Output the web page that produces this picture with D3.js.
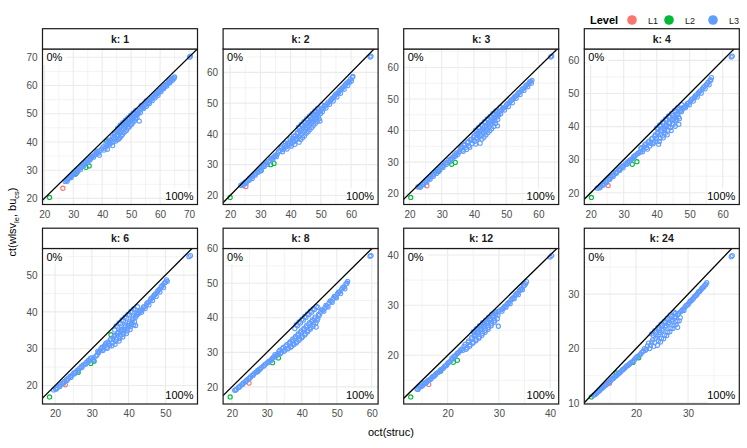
<!DOCTYPE html>
<html>
<head>
<meta charset="utf-8">
<script src="https://cdn.jsdelivr.net/npm/d3@7"></script>
<style>
  body { margin: 0; background: #fff; }
  svg { font-family: "Liberation Sans", Arial, Helvetica, sans-serif; }
</style>
</head>
<body>
<div id="chart"></div>
<script>
// facet labels
var kLabels = ["1", "2", "3", "4", "6", "8", "12", "24"];
var levels = ["L1", "L2", "L3"];
var levelColors = ["#F8766D", "#00BA38", "#619CFF"];

// L1 (one point per panel)
var l1 = [[26.4, 23.6], [25.2, 22.9], [25.4, 22.5], [25.3, 22.2], [22.8, 20.2], [24.9, 21.1], [16.3, 14.2], [14.9, 13.6]];

// L2 points per panel
var l2 = [
  [[21.8, 20.35], [31.0, 28.8], [34.4, 31.0], [35.5, 31.5], [41.5, 40.2]],
  [[20.0, 19.35], [30.2, 28.0], [33.4, 30.0], [34.5, 30.4]],
  [[20.4, 18.8], [29.0, 27.0], [33.1, 29.3], [34.2, 29.9]],
  [[20.2, 18.6], [28.8, 26.9], [32.6, 28.6], [34.0, 29.4]],
  [[18.5, 16.9], [26.3, 23.6], [29.7, 26.0], [30.6, 26.6], [35.2, 33.8]],
  [[19.5, 17.1], [27.5, 24.6], [31.6, 27.0], [33.3, 28.4]],
  [[12.8, 11.7], [18.6, 16.8], [21.1, 18.6], [21.9, 19.0]],
  [[11.4, 11.1], [16.2, 15.5], [19.4, 17.45], [20.5, 18.3]]
];

// L3 points, one array per panel
var l3_k1 = [[27.2,26.0],[27.6,26.4],[28.0,26.8],[28.3,27.0],[28.7,27.5],[29.1,27.8],[29.5,28.1],[30.0,28.7],[30.4,29.0],[30.9,29.5],[31.3,29.9],[31.8,30.4],[32.3,30.9],[32.8,31.2],[33.2,31.9],[33.7,32.1],[34.3,32.8],[34.8,33.2],[35.4,33.9],[36.0,34.2],[36.6,34.9],[37.3,35.4],[38.0,36.2],[38.6,36.0],[39.2,36.9],[39.0,35.3],[39.8,37.5],[40.3,38.2],
  [27.9,26.1],[29.3,27.4],[30.6,28.5],[31.5,29.4],[32.5,30.2],[33.5,31.4],[34.0,32.5],[35.0,32.8],[35.8,33.6],[36.3,34.6],[37.0,34.6],[37.8,35.7],[38.3,36.7],
  [41.0,37.8],[41.6,38.6],[42.0,39.9],[42.4,38.9],[42.8,40.5],[43.1,39.6],[43.5,41.8],[43.8,40.1],[44.2,42.7],[44.5,41.2],[44.9,43.6],[45.2,40.8],[45.5,42.4],[45.8,44.6],[46.1,41.5],[46.4,43.5],[46.7,45.4],[47.0,42.6],[47.3,44.7],[47.6,46.4],[47.9,43.8],[48.2,45.8],[48.5,47.3],[48.8,44.9],[49.1,46.8],[49.4,48.3],[49.7,45.9],[50.0,47.8],[50.3,49.2],[50.6,47.0],[50.9,48.7],[51.2,50.1],[51.5,48.2],[51.8,49.6],[52.1,51.0],[52.8,47.4],[52.5,50.3],
  [40.6,37.1],[41.3,39.4],[41.8,37.4],[42.2,40.6],[42.6,39.4],[43.3,40.8],[43.6,38.7],[44.0,41.5],[44.3,43.3],[44.7,40.3],[45.0,42.1],[45.4,43.9],[45.7,41.0],[46.0,43.0],[46.3,45.2],[46.6,42.1],[46.9,44.1],[47.2,46.2],[47.5,43.3],[47.8,45.2],[48.1,46.8],[48.4,44.1],[48.7,46.2],[49.0,47.9],[49.3,45.3],[49.6,47.4],[49.9,48.8],[50.2,46.3],[50.5,48.1],[50.8,49.8],[51.1,47.4],[51.4,49.2],[51.7,50.6],[52.0,48.6],[52.3,49.9],
  [53.0,51.2],[53.5,51.9],[54.0,52.1],[54.5,52.9],[55.0,53.1],[55.5,53.9],[56.0,54.0],[56.5,54.8],[57.0,55.1],[57.5,55.8],[58.0,56.0],[58.5,56.8],[59.0,57.1],[59.5,57.6],[60.0,58.3],[60.5,58.6],[61.0,59.4],[61.5,59.5],[62.0,60.3],[62.5,60.5],[63.0,61.6],[63.5,61.4],[64.0,62.3],[64.5,62.6],[65.0,63.0],
  [53.2,50.4],[53.8,52.6],[54.3,51.8],[54.8,53.6],[55.3,52.6],[55.8,54.6],[56.3,53.6],[56.8,55.5],[57.3,54.6],[57.8,56.6],[58.3,55.6],[58.8,57.4],[59.3,56.5],[59.8,58.2],[60.3,57.8],[60.8,59.0],[61.3,58.9],[61.8,60.0],[62.3,59.8],[62.8,61.0],[63.3,60.9],[63.8,62.0],[64.3,61.8],[64.8,62.5],
  [45.3,44.9],[46.2,45.9],[47.1,46.8],[48.0,47.7],[48.9,48.6],[49.8,49.5],[50.7,50.3],[51.6,51.2],[53.5,52.9],[55.2,54.5],
  [45.7,44.6],[46.6,45.5],[47.5,46.4],[48.4,47.4],[49.3,48.1],[50.2,49.1],[51.1,49.8],
  [70.2,70.0],[70.5,70.4]];
var l3_k2 = [[23.5,23.3],[24.0,23.6],[24.5,23.9],[25.0,24.3],[25.5,24.6],[26.0,25.0],[26.5,25.6],[27.0,26.0],[27.5,26.4],[28.0,26.9],[28.5,27.2],[29.0,27.8],[29.5,28.3],[30.0,28.6],[30.5,29.2],[31.0,29.6],[31.5,30.1],[32.0,30.6],[32.6,31.0],[33.2,31.3],[33.8,32.0],[34.4,32.5],[35.0,33.0],[35.6,33.5],
  [24.3,23.2],[25.3,24.0],[26.3,24.9],[27.3,25.5],[28.3,26.6],[29.3,27.5],[30.3,28.2],[31.3,29.4],[32.3,30.1],[33.5,31.9],[34.1,31.7],[34.8,32.8],[35.3,32.6],[36.0,34.2],
  [36.5,34.6],[37.0,35.4],[37.5,34.9],[38.0,36.2],[38.5,35.8],[39.0,37.0],[39.5,36.2],[40.0,37.8],[40.4,36.8],[40.8,38.6],[41.2,37.5],[41.6,39.4],[42.0,38.2],[42.4,40.2],[42.8,37.3],[43.2,39.6],[43.6,41.4],[44.0,38.8],[44.4,40.9],[44.8,42.6],[45.2,40.2],[45.6,42.1],[46.0,43.8],[46.4,41.4],[46.8,43.4],[47.2,45.0],[47.6,42.8],[48.0,44.6],[48.4,46.2],[48.8,44.1],[49.2,45.8],[49.7,44.2],[49.6,47.3],
  [36.8,35.7],[37.3,34.2],[37.8,35.3],[38.3,37.0],[38.8,35.1],[39.3,36.8],[39.8,38.4],[40.2,36.0],[40.6,37.7],[41.0,39.3],[41.4,36.6],[41.8,38.6],[42.2,40.4],[42.6,38.9],[43.0,41.0],[43.4,38.2],[43.8,40.1],[44.2,42.0],[44.6,39.4],[45.0,41.5],[45.4,43.3],[45.8,40.8],[46.2,42.7],[46.6,44.6],[47.0,42.1],[47.4,44.0],[47.8,46.0],[48.2,43.5],[48.6,45.4],[49.0,47.1],[49.4,44.9],[49.9,46.6],
  [50.2,47.9],[50.8,48.3],[51.4,49.1],[52.0,49.6],[52.6,50.4],[53.2,50.9],[53.8,51.6],[54.4,52.1],[55.0,52.9],[55.6,53.3],[56.2,54.1],[56.8,54.6],[57.4,55.3],[58.0,55.9],[58.6,56.6],[59.2,57.1],[59.8,57.8],[60.4,58.4],
  [50.5,47.2],[51.1,49.0],[51.7,48.4],[52.3,50.1],[52.9,49.6],[53.5,51.2],[54.1,50.7],[54.7,52.5],[55.3,52.0],[55.9,53.6],[56.5,53.2],[57.1,54.9],[57.7,54.5],[58.3,56.1],[58.9,55.7],[59.5,56.8],[60.1,57.2],[60.6,58.7],
  [42.6,42.2],[43.5,43.1],[44.4,44.0],[45.3,44.9],[46.2,45.8],[47.1,46.6],[48.0,47.5],[48.9,48.3],[50.3,49.4],
  [43.0,41.8],[43.9,42.7],[44.8,43.6],[45.7,44.5],[46.6,45.3],[47.5,46.2],[48.4,47.1],[49.3,47.8],
  [66.3,65.0],[66.6,65.3]];
var l3_k3 = [[22.6,22.1],[23.1,22.2],[23.6,22.7],[24.1,23.0],[24.6,23.5],[25.1,24.0],[25.6,24.5],[26.1,24.9],[26.6,25.4],[27.1,25.9],[27.6,26.2],[28.1,26.8],[28.6,27.1],[29.1,27.7],[29.6,28.1],[30.1,28.6],[30.6,29.0],[31.1,29.6],[31.6,29.9],[32.2,30.6],[32.8,31.0],[33.4,31.6],[34.0,32.3],[34.6,32.9],
  [23.4,22.0],[24.4,22.8],[25.4,23.7],[26.4,24.6],[27.4,25.5],[28.4,26.4],[29.4,27.4],[30.4,28.3],[31.4,29.2],[32.5,30.1],[33.1,30.9],[33.8,31.6],[34.3,31.9],[35.0,32.4],
  [35.4,33.2],[35.9,34.4],[36.4,33.8],[36.9,35.3],[37.4,34.6],[37.9,36.2],[38.4,35.2],[38.9,37.1],[39.4,35.9],[39.9,37.9],[40.3,36.6],[40.7,38.8],[41.1,37.4],[41.5,39.6],[41.9,36.0],[42.3,38.6],[42.7,40.4],[43.1,37.9],[43.5,39.9],[43.9,41.6],[44.3,39.3],[44.7,41.2],[45.1,42.9],[45.5,40.6],[45.9,42.6],[46.3,44.0],[46.7,42.2],[47.1,44.3],[47.3,41.5],[47.5,45.6],
  [35.7,33.9],[36.2,34.8],[36.7,33.4],[37.2,35.6],[37.7,34.0],[38.2,36.5],[38.7,34.7],[39.2,37.3],[39.7,36.8],[40.1,38.4],[40.5,35.7],[40.9,37.8],[41.3,39.2],[41.7,38.0],[42.1,40.0],[42.5,37.3],[42.9,39.3],[43.3,41.2],[43.7,38.6],[44.1,40.6],[44.5,42.4],[44.9,39.9],[45.3,41.9],[45.7,43.6],[46.1,41.3],[46.5,43.2],[46.9,45.0],[47.4,43.5],[47.7,44.9],
  [48.0,46.0],[48.6,46.5],[49.2,47.2],[49.8,47.6],[50.4,48.5],[51.0,48.9],[51.6,49.7],[52.2,50.1],[52.8,50.9],[53.4,51.3],[54.0,52.1],[54.6,52.5],[55.2,53.3],[55.8,53.7],[56.4,54.5],[57.0,54.9],[57.6,55.6],[58.0,55.9],
  [48.3,45.3],[48.9,47.0],[49.5,46.5],[50.1,48.1],[50.7,47.6],[51.3,49.3],[51.9,48.8],[52.5,50.5],[53.1,50.2],[53.7,51.8],[54.3,51.4],[54.9,53.0],[55.5,52.7],[56.1,54.2],[56.7,53.9],[57.3,55.4],[57.8,55.0],
  [40.5,40.1],[41.4,41.0],[42.3,41.9],[43.2,42.8],[44.1,43.7],[45.0,44.5],[45.9,45.4],[46.8,46.2],[48.2,47.3],
  [40.9,39.8],[41.8,40.7],[42.7,41.6],[43.6,42.5],[44.5,43.3],[45.4,44.1],[46.3,45.0],[47.2,45.9],
  [63.8,63.3],[64.1,63.6]];
var l3_k4 = [[22.0,21.4],[22.5,21.6],[23.0,22.0],[23.5,22.4],[24.0,22.9],[24.5,23.3],[25.0,23.8],[25.5,24.1],[26.0,24.7],[26.5,25.1],[27.0,25.5],[27.5,26.1],[28.0,26.4],[28.5,27.0],[29.0,27.4],[29.5,27.9],[30.0,28.3],[30.6,28.8],[31.2,29.3],[31.8,29.8],[32.4,30.2],[33.0,30.9],[33.6,31.4],[34.2,31.8],
  [22.8,21.5],[23.8,22.3],[24.8,23.1],[25.8,24.1],[26.8,24.9],[27.8,25.9],[28.8,26.8],[29.8,27.6],[30.9,28.6],[31.5,29.1],[32.1,29.9],[32.7,30.3],[33.3,31.0],[34.6,32.1],
  [35.0,32.3],[35.4,33.6],[35.9,33.0],[36.4,34.5],[36.9,33.7],[37.4,35.3],[37.9,34.1],[38.4,36.2],[38.9,34.8],[39.4,37.1],[39.8,35.6],[40.2,37.9],[40.6,34.7],[41.0,36.5],[41.4,38.7],[41.8,37.2],[42.2,39.5],[42.6,38.0],[43.0,40.3],[43.4,38.8],[43.8,41.1],[44.2,39.7],[44.6,41.9],[45.0,40.6],[45.4,42.7],[45.8,41.8],[46.2,43.6],[46.7,40.7],[46.6,42.9],
  [35.2,33.3],[35.7,32.4],[36.2,33.9],[36.7,34.8],[37.2,33.2],[37.7,35.6],[38.2,34.9],[38.7,36.5],[39.1,35.3],[39.6,37.6],[40.0,36.4],[40.4,38.3],[40.8,35.5],[41.2,37.6],[41.6,39.3],[42.0,36.6],[42.4,38.8],[42.8,40.0],[43.2,37.5],[43.6,39.9],[44.0,41.3],[44.4,38.8],[44.8,40.9],[45.2,42.3],[45.6,40.1],[46.0,42.2],[46.4,43.8],[46.9,42.4],
  [47.2,44.8],[47.8,45.2],[48.4,45.9],[49.0,46.4],[49.6,47.1],[50.2,47.6],[50.8,48.4],[51.4,48.8],[52.0,49.6],[52.6,50.1],[53.2,50.8],[53.8,51.3],[54.4,52.1],[55.0,52.6],[55.6,53.4],[56.2,54.1],[56.6,54.8],
  [47.5,44.5],[48.1,45.8],[48.7,45.7],[49.3,47.0],[49.9,46.6],[50.5,48.1],[51.1,47.7],[51.7,49.2],[52.3,48.9],[52.9,50.5],[53.5,50.1],[54.1,51.7],[54.7,51.4],[55.3,52.9],[55.9,52.6],[56.4,54.0],
  [40.0,39.6],[40.9,40.5],[41.8,41.4],[42.7,42.3],[43.6,43.2],[44.5,44.0],[45.4,44.9],[46.3,45.7],[47.6,46.6],
  [40.4,39.2],[41.3,40.1],[42.2,41.0],[43.1,41.9],[44.0,42.8],[44.9,43.4],[45.8,44.4],[46.8,45.2],
  [62.6,61.0],[62.9,61.3]];
var l3_k6 = [[19.6,18.8],[20.1,19.1],[20.6,19.4],[21.1,19.8],[21.6,20.3],[22.1,20.7],[22.6,21.1],[23.1,21.6],[23.6,22.0],[24.1,22.5],[24.6,22.8],[25.1,23.4],[25.6,23.7],[26.1,24.2],[26.6,24.6],[27.1,25.1],[27.6,25.5],[28.1,25.9],[28.6,26.4],[29.1,26.9],[29.6,27.4],[30.1,27.0],[30.6,27.6],[31.1,28.0],
  [20.3,19.0],[21.3,19.7],[22.3,20.6],[23.3,21.4],[24.3,22.2],[25.3,23.2],[26.3,24.0],[27.3,24.9],[28.3,25.8],[29.3,26.6],[29.9,27.5],[30.4,26.8],[31.4,28.3],[31.6,29.3],
  [31.8,28.9],[32.3,29.6],[32.8,30.4],[33.2,29.9],[33.6,31.0],[34.0,30.4],[34.4,31.8],[34.8,30.9],[35.2,32.6],[35.6,31.5],[36.0,33.3],[36.3,31.2],[36.7,32.5],[37.0,34.1],[37.4,32.1],[37.7,33.4],[38.0,35.0],[38.4,33.2],[38.7,34.5],[39.0,35.9],[39.4,34.1],[39.7,35.6],[40.0,36.8],[40.4,35.2],[40.7,36.6],[41.0,37.8],[41.4,36.5],[41.9,36.3],[41.8,38.5],
  [32.0,29.3],[32.5,30.1],[33.0,29.5],[33.4,30.7],[33.8,31.5],[34.2,30.1],[34.6,31.3],[35.0,32.4],[35.4,30.8],[35.8,32.7],[36.2,33.6],[36.5,32.0],[36.9,33.6],[37.2,34.4],[37.6,32.8],[37.9,34.6],[38.2,35.3],[38.6,33.9],[38.9,35.2],[39.2,36.3],[39.6,34.8],[39.9,36.2],[40.2,37.3],[40.6,36.0],[40.9,37.2],[41.2,38.3],[41.6,37.3],[42.0,38.9],
  [42.3,39.2],[42.8,39.6],[43.3,40.3],[43.8,40.7],[44.3,41.4],[44.8,41.9],[45.3,42.6],[45.8,43.0],[46.3,43.8],[46.8,44.3],[47.3,44.9],[47.8,45.5],[48.3,46.1],[48.8,46.8],[49.3,47.3],[49.8,47.9],[50.3,48.7],
  [42.5,39.8],[43.0,40.3],[43.5,39.9],[44.0,41.3],[44.5,40.9],[45.0,42.4],[45.5,41.9],[46.0,43.5],[46.5,43.1],[47.0,44.6],[47.5,44.2],[48.0,45.8],[48.5,45.4],[49.0,46.9],[49.5,46.6],[50.0,48.1],[50.5,48.3],
  [36.6,36.2],[37.4,37.0],[38.2,37.8],[39.0,38.6],[39.8,39.3],[40.6,40.1],[41.4,40.8],[42.4,41.4],
  [36.2,35.1],[37.0,35.9],[37.8,36.8],[38.6,37.6],[39.4,38.3],[40.2,39.1],[41.0,39.9],[41.8,40.6],
  [56.4,55.0],[56.8,55.3]];
var l3_k8 = [[20.8,19.0],[21.3,19.3],[21.8,19.8],[22.3,20.2],[22.8,20.6],[23.3,21.1],[23.8,21.5],[24.3,22.0],[24.8,22.4],[25.3,22.9],[25.8,23.3],[26.3,23.8],[26.8,24.2],[27.3,24.7],[27.8,25.1],[28.4,25.6],[29.0,26.0],[29.6,26.6],[30.2,27.0],[30.8,27.5],[31.4,28.0],[32.0,28.6],[32.6,28.9],
  [21.1,19.1],[22.1,19.9],[23.1,20.8],[24.1,21.7],[25.1,22.5],[26.1,23.4],[27.1,24.3],[28.1,25.2],[29.3,26.3],[30.5,27.3],[31.1,27.6],[31.7,28.4],[32.3,29.3],[32.9,29.2],
  [33.2,29.6],[33.7,30.6],[34.2,30.0],[34.7,31.4],[35.2,30.7],[35.7,32.2],[36.2,31.2],[36.6,33.0],[37.0,31.7],[37.4,33.8],[37.8,32.4],[38.2,34.6],[38.6,33.1],[39.0,35.4],[39.4,33.9],[39.8,36.2],[40.2,34.6],[40.6,36.9],[41.0,35.4],[41.4,37.8],[41.8,36.3],[42.2,38.6],[42.6,37.2],[43.0,39.4],[43.4,38.1],[43.8,40.2],[44.1,37.3],[44.4,39.3],[44.8,41.0],
  [33.4,30.2],[33.9,29.7],[34.4,31.0],[34.9,30.3],[35.4,31.8],[35.9,31.0],[36.4,32.6],[36.8,31.5],[37.2,33.3],[37.6,32.2],[38.0,34.1],[38.4,32.7],[38.8,34.9],[39.2,33.5],[39.6,35.8],[40.0,34.2],[40.4,36.5],[40.8,35.0],[41.2,37.3],[41.6,35.9],[42.0,38.1],[42.4,36.7],[42.8,38.9],[43.2,37.5],[43.6,39.7],[44.0,38.5],[44.6,39.9],[45.0,40.7],
  [45.4,41.6],[46.0,42.2],[46.6,42.9],[47.2,43.4],[47.8,44.3],[48.4,44.8],[49.0,45.6],[49.6,46.1],[50.2,47.0],[50.8,47.5],[51.4,48.3],[52.0,48.9],[52.6,49.8],[53.1,50.5],
  [45.7,42.3],[46.3,41.9],[46.9,43.6],[47.5,43.1],[48.1,44.9],[48.7,44.5],[49.3,46.2],[49.9,45.8],[50.5,47.4],[51.1,47.0],[51.7,48.7],[52.3,48.4],[52.9,50.0],
  [38.4,38.0],[39.2,38.8],[40.0,39.6],[40.8,40.4],[41.6,41.1],[42.4,41.9],[43.2,42.6],[44.2,43.3],
  [38.0,36.9],[38.8,37.7],[39.6,38.5],[40.4,39.3],[41.2,40.1],[42.0,40.9],[42.8,41.6],[43.6,42.4],[44.6,43.0],
  [59.5,57.8],[59.8,58.0]];
var l3_k12 = [[14.0,13.3],[14.4,13.5],[14.8,13.8],[15.2,14.1],[15.6,14.5],[16.0,14.8],[16.4,15.1],[16.8,15.4],[17.2,15.8],[17.6,16.1],[18.0,16.5],[18.4,16.8],[18.8,17.2],[19.2,17.5],[19.6,17.9],[20.0,18.4],[20.4,18.7],[20.8,19.4],[21.2,19.8],[21.6,20.0],[22.0,20.5],[22.4,20.9],[22.8,21.3],
  [14.2,13.2],[14.6,13.8],[15.0,13.9],[15.4,14.4],[15.8,14.5],[16.2,15.0],[16.6,15.2],[17.0,15.7],[17.4,15.9],[17.8,16.4],[18.2,16.6],[18.6,17.1],[19.0,17.3],[19.4,17.8],[19.8,18.0],[20.2,18.6],[20.6,18.9],[21.0,19.3],[21.4,19.7],[21.8,20.3],[22.2,20.6],[22.6,21.1],[23.0,21.0],
  [23.2,21.8],[23.6,21.2],[24.0,22.6],[24.3,21.8],[24.6,23.3],[24.9,22.4],[25.2,23.9],[25.5,22.9],[25.8,24.5],[26.1,23.4],[26.4,25.1],[26.7,24.0],[27.0,25.8],[27.3,24.6],[27.6,26.4],[27.9,25.2],[28.2,27.0],[28.5,25.9],[28.8,27.6],[29.1,26.6],[29.4,28.2],[29.9,25.8],[29.7,27.3],[30.0,28.8],
  [23.4,22.2],[23.8,21.5],[24.1,22.9],[24.4,22.1],[24.7,23.6],[25.0,22.6],[25.3,24.2],[25.6,23.2],[25.9,24.8],[26.2,23.7],[26.5,25.4],[26.8,24.4],[27.1,26.1],[27.4,25.0],[27.7,26.7],[28.0,25.6],[28.3,27.3],[28.6,26.3],[28.9,27.9],[29.2,27.0],[29.5,28.5],[29.8,28.0],
  [30.4,29.1],[30.8,29.3],[31.2,29.8],[31.6,30.2],[32.0,30.6],[32.4,31.1],[32.8,31.5],[33.2,32.0],[33.6,32.4],[34.0,32.9],[34.4,33.3],[34.8,33.9],[35.2,34.3],[35.4,34.7],
  [30.6,28.8],[31.0,29.6],[31.4,29.6],[31.8,30.4],[32.2,30.3],[32.6,31.3],[33.0,31.3],[33.4,32.2],[33.8,32.1],[34.2,33.1],[34.6,33.1],[35.0,34.0],
  [25.0,24.7],[25.6,25.3],[26.2,25.9],[26.8,26.5],[27.4,27.0],[28.0,27.6],[28.6,28.2],[29.3,28.7],
  [25.3,24.5],[25.9,25.1],[26.5,25.7],[27.1,26.3],[27.7,26.7],[28.3,27.3],[28.9,27.9],
  [40.0,39.6],[40.3,39.9]];
var l3_k24 = [[11.8,11.4],[12.2,11.6],[12.6,12.0],[13.0,12.3],[13.4,12.7],[13.8,13.0],[14.2,13.3],[14.6,13.7],[15.0,14.0],[15.4,14.4],[15.8,14.7],[16.2,15.0],[16.6,15.4],[17.0,15.7],[17.4,16.1],[17.8,16.4],[18.2,16.8],[18.6,17.0],[19.0,17.4],[19.6,17.8],[20.0,18.3],[20.4,18.6],[20.9,19.0],[21.4,19.5],
  [12.0,11.5],[12.4,11.8],[12.8,12.1],[13.2,12.5],[13.6,12.8],[14.0,13.2],[14.4,13.5],[14.8,13.8],[15.2,14.2],[15.6,14.5],[16.0,14.9],[16.4,15.2],[16.8,15.5],[17.2,15.9],[17.6,16.2],[18.0,16.6],[18.4,16.9],[18.8,17.2],[19.3,17.6],[19.8,18.1],[20.2,18.5],[20.7,18.8],[21.1,19.3],
  [21.8,19.7],[22.2,20.5],[22.6,20.0],[23.0,21.2],[23.4,20.4],[23.8,21.9],[24.1,20.6],[24.4,22.6],[24.7,21.2],[25.0,23.3],[25.3,21.8],[25.6,23.9],[25.9,22.4],[26.2,24.5],[26.5,23.1],[26.8,25.0],[27.1,23.7],[27.4,25.6],[27.7,24.4],[28.0,23.9],[28.0,26.2],[28.3,25.1],[28.6,26.8],
  [21.6,20.0],[22.0,19.9],[22.4,21.0],[22.8,20.6],[23.2,21.6],[23.6,21.1],[24.0,22.3],[24.3,21.4],[24.6,23.0],[24.9,21.9],[25.2,23.6],[25.5,22.5],[25.8,24.2],[26.1,23.0],[26.4,24.8],[26.7,23.7],[27.0,25.3],[27.3,24.2],[27.6,25.9],[27.9,25.0],[28.2,26.5],[28.5,25.7],[28.8,27.0],
  [29.0,27.2],[29.4,27.6],[29.8,28.0],[30.2,28.4],[30.6,28.8],[31.0,29.2],[31.4,29.7],[31.8,30.1],[32.2,30.5],[32.6,31.0],[33.0,31.3],[33.4,31.8],[33.6,32.1],
  [29.2,27.0],[29.6,27.9],[30.0,28.1],[30.4,28.7],[30.8,29.0],[31.2,29.5],[31.6,29.8],[32.0,30.4],[32.4,30.7],[32.8,31.2],[33.2,31.6],
  [23.0,22.7],[23.6,23.3],[24.2,23.9],[24.8,24.5],[25.4,25.0],[26.0,25.6],[26.6,26.2],[27.3,26.7],
  [23.3,22.4],[23.9,23.0],[24.5,23.6],[25.1,24.2],[25.7,24.8],[26.3,25.3],[26.9,25.9],[27.6,26.5],
  [38.3,36.9],[38.5,37.1]];
var l3 = [l3_k1, l3_k2, l3_k3, l3_k4, l3_k6, l3_k8, l3_k12, l3_k24];

var cornerTop = "0%";
var cornerBottom = "100%";

var width = 747, height = 448;
var panelW = 155, panelH = 155.5, stripH = 20.3;
var left0 = 42.5, colStep = 180.6;
var top0 = 28.7, rowStep = 199.5;

var svg = d3.select("#chart").append("svg")
    .attr("width", width)
    .attr("height", height);

var defs = svg.append("defs");

kLabels.forEach(function(k, i) {
    var col = i % 4, row = Math.floor(i / 4);
    var gx = left0 + col * colStep;
    var stripTop = top0 + row * rowStep;
    var gy = stripTop + stripH;

    var pts = [];
    pts.push({ x: l1[i][0], y: l1[i][1], lev: 0 });
    l2[i].forEach(function(p) { pts.push({ x: p[0], y: p[1], lev: 1 }); });
    l3[i].forEach(function(p) { pts.push({ x: p[0], y: p[1], lev: 2 }); });

    // ggplot-like 5% expansion
    var xe = d3.extent(pts, function(d) { return d.x; });
    var ye = d3.extent(pts, function(d) { return d.y; });
    var xr = xe[1] - xe[0], yr = ye[1] - ye[0];
    var xScale = d3.scaleLinear().domain([xe[0] - 0.05 * xr, xe[1] + 0.05 * xr]).range([0, panelW]);
    var yScale = d3.scaleLinear().domain([ye[0] - 0.05 * yr, ye[1] + 0.05 * yr]).range([panelH, 0]);

    function breaks(dom, step) {
        return d3.range(Math.ceil(dom[0] / step) * step, dom[1] + 1e-9, step);
    }
    var xMajor = breaks(xScale.domain(), 10);
    var yMajor = breaks(yScale.domain(), 10);
    var xMinor = breaks(xScale.domain(), 5).filter(function(v) { return v % 10 !== 0; });
    var yMinor = breaks(yScale.domain(), 5).filter(function(v) { return v % 10 !== 0; });

    var g = svg.append("g").attr("transform", "translate(" + gx + "," + gy + ")");

    defs.append("clipPath").attr("id", "clip" + i)
        .append("rect").attr("width", panelW).attr("height", panelH);

    var plot = g.append("g").attr("clip-path", "url(#clip" + i + ")");

    // grid
    plot.selectAll(".xminor").data(xMinor).enter().append("line")
        .attr("x1", function(d) { return xScale(d); }).attr("x2", function(d) { return xScale(d); })
        .attr("y1", 0).attr("y2", panelH)
        .attr("stroke", "#ebebeb").attr("stroke-width", 0.6);
    plot.selectAll(".yminor").data(yMinor).enter().append("line")
        .attr("y1", function(d) { return yScale(d); }).attr("y2", function(d) { return yScale(d); })
        .attr("x1", 0).attr("x2", panelW)
        .attr("stroke", "#ebebeb").attr("stroke-width", 0.6);
    plot.selectAll(".xmajor").data(xMajor).enter().append("line")
        .attr("x1", function(d) { return xScale(d); }).attr("x2", function(d) { return xScale(d); })
        .attr("y1", 0).attr("y2", panelH)
        .attr("stroke", "#ebebeb").attr("stroke-width", 1.1);
    plot.selectAll(".ymajor").data(yMajor).enter().append("line")
        .attr("y1", function(d) { return yScale(d); }).attr("y2", function(d) { return yScale(d); })
        .attr("x1", 0).attr("x2", panelW)
        .attr("stroke", "#ebebeb").attr("stroke-width", 1.1);

    // points: L1/L2 first, L3 on top
    plot.selectAll("circle").data(pts.filter(function(d) { return d.lev < 2; })
            .concat(pts.filter(function(d) { return d.lev === 2; })))
        .enter().append("circle")
        .attr("cx", function(d) { return xScale(d.x); })
        .attr("cy", function(d) { return yScale(d.y); })
        .attr("r", 2.1)
        .attr("fill", "none")
        .attr("stroke", function(d) { return levelColors[d.lev]; })
        .attr("stroke-width", 1.1);

    // y = x
    var lo = Math.min(xScale.domain()[0], yScale.domain()[0]);
    var hi = Math.max(xScale.domain()[1], yScale.domain()[1]);
    plot.append("line")
        .attr("x1", xScale(lo)).attr("y1", yScale(lo))
        .attr("x2", xScale(hi)).attr("y2", yScale(hi))
        .attr("stroke", "#000").attr("stroke-width", 1.3);

    // corner labels
    plot.append("rect").attr("x", 0).attr("y", 0).attr("width", 24).attr("height", 16).attr("fill", "#fff");
    plot.append("text").attr("x", 4).attr("y", 12).attr("font-size", 11).attr("fill", "#000").text(cornerTop);
    plot.append("rect").attr("x", panelW - 31).attr("y", panelH - 16).attr("width", 31).attr("height", 16).attr("fill", "#fff");
    plot.append("text").attr("x", panelW - 4).attr("y", panelH - 5).attr("text-anchor", "end")
        .attr("font-size", 11).attr("fill", "#000").text(cornerBottom);

    // panel border
    g.append("rect").attr("width", panelW).attr("height", panelH)
        .attr("fill", "none").attr("stroke", "#1a1a1a").attr("stroke-width", 1.2);

    // strip
    var strip = svg.append("g").attr("transform", "translate(" + gx + "," + stripTop + ")");
    strip.append("rect").attr("width", panelW).attr("height", stripH)
        .attr("fill", "#fff").attr("stroke", "#1a1a1a").attr("stroke-width", 1.2);
    strip.append("text").attr("x", panelW / 2).attr("y", stripH / 2 + 4)
        .attr("text-anchor", "middle").attr("font-size", 10.5).attr("font-weight", "bold")
        .attr("fill", "#1a1a1a").text("k: " + k);

    // axes (labels only)
    var xAxis = g.append("g").attr("transform", "translate(0," + panelH + ")")
        .call(d3.axisBottom(xScale).tickValues(xMajor).tickSize(0).tickPadding(6));
    var yAxis = g.append("g")
        .call(d3.axisLeft(yScale).tickValues(yMajor).tickSize(0).tickPadding(5));
    [xAxis, yAxis].forEach(function(a) {
        a.select(".domain").remove();
        a.selectAll("text").attr("font-size", 10).attr("fill", "#4d4d4d")
            .attr("font-family", "Liberation Sans, Arial, sans-serif");
    });
});

// axis titles
svg.append("text")
    .attr("x", left0 + (3 * colStep + panelW) / 2).attr("y", 436)
    .attr("text-anchor", "middle").attr("font-size", 11).attr("fill", "#000")
    .text("oct(struc)");

var yTitle = svg.append("text")
    .attr("transform", "translate(16,222) rotate(-90)")
    .attr("text-anchor", "middle").attr("font-size", 11).attr("fill", "#000");
yTitle.append("tspan").text("ct(wlsv");
yTitle.append("tspan").attr("dy", 2.5).attr("font-size", 7.5).text("le");
yTitle.append("tspan").attr("dy", -2.5).text(", bu");
yTitle.append("tspan").attr("dy", 2.5).attr("font-size", 7.5).text("cs");
yTitle.append("tspan").attr("dy", -2.5).text(")");

// legend
var legend = svg.append("g").attr("transform", "translate(590,20)");
legend.append("text").attr("x", 0).attr("y", 4).attr("font-size", 11).attr("font-weight", "bold")
    .attr("fill", "#000").text("Level");
var legendX = [42, 79, 123];
levels.forEach(function(l, i) {
    legend.append("circle").attr("cx", legendX[i]).attr("cy", 0).attr("r", 4.8).attr("fill", levelColors[i]);
    legend.append("text").attr("x", legendX[i] + 16).attr("y", 3.5).attr("font-size", 9)
        .attr("fill", "#1a1a1a").text(l);
});
</script>
</body>
</html>
